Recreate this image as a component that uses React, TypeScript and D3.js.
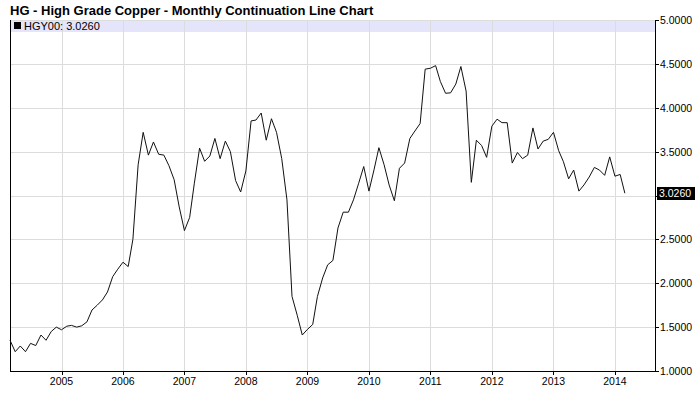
import * as d3 from "d3";
import React, { useEffect, useRef } from "react";

// monthly closes, first value is March 2004
const startMonth = "2004-03-01";
const y2004 = [1.35, 1.22, 1.285, 1.22, 1.315, 1.29, 1.41, 1.35, 1.45, 1.5];
const y2005 = [1.47, 1.51, 1.52, 1.5, 1.515, 1.56, 1.695, 1.75, 1.81, 1.9, 2.075, 2.16];
const y2006 = [2.24, 2.19, 2.5, 3.35, 3.72, 3.46, 3.61, 3.47, 3.46, 3.34, 3.18, 2.87];
const y2007 = [2.6, 2.75, 3.14, 3.54, 3.39, 3.45, 3.65, 3.42, 3.62, 3.5, 3.17, 3.04];
const y2008 = [3.28, 3.85, 3.86, 3.94, 3.63, 3.875, 3.72, 3.42, 2.95, 1.85, 1.635, 1.41];
const y2009 = [1.475, 1.53, 1.85, 2.06, 2.21, 2.26, 2.63, 2.81, 2.81, 2.95, 3.14, 3.33];
const y2010 = [3.05, 3.3, 3.545, 3.35, 3.12, 2.94, 3.31, 3.37, 3.65, 3.735, 3.82, 4.44];
const y2011 = [4.45, 4.48, 4.3, 4.165, 4.17, 4.27, 4.47, 4.19, 3.15, 3.63, 3.57, 3.435];
const y2012 = [3.79, 3.87, 3.83, 3.83, 3.37, 3.49, 3.42, 3.46, 3.77, 3.53, 3.62, 3.64];
const y2013 = [3.72, 3.51, 3.385, 3.19, 3.29, 3.05, 3.12, 3.21, 3.32, 3.29, 3.23, 3.44];
const y2014 = [3.22, 3.24, 3.026];

const yearTicks = [2005, 2006, 2007, 2008, 2009, 2010, 2011, 2012, 2013, 2014];
const priceTicks = [1, 1.5, 2, 2.5, 3, 3.5, 4, 4.5, 5];
const lastLabel = "3.0260";
const legendLabel = "HGY00: 3.0260";

export default function App() {
  const ref = useRef<SVGSVGElement>(null);

  useEffect(() => {
    const svg = d3.select(ref.current);
    svg.selectAll("*").remove();

    const values = [
      ...y2004, ...y2005, ...y2006, ...y2007, ...y2008, ...y2009,
      ...y2010, ...y2011, ...y2012, ...y2013, ...y2014,
    ];
    const start = new Date(startMonth + "T00:00:00Z");
    const data = values.map((v, i) => ({ date: d3.utcMonth.offset(start, i), value: v }));
    const last = data[data.length - 1];

    const left = 10, right = 655, top = 20, bottom = 371;
    const x = d3.scaleUtc()
      .domain([start, new Date("2014-08-27T00:00:00Z")])
      .range([left, right]);
    const y = d3.scaleLinear().domain([1, 5]).range([bottom, top]);
    const yearX = (d: number) => Math.round(x(new Date(Date.UTC(d, 0, 1)))) + 0.5;

    svg.append("text")
      .attr("x", 10).attr("y", 15)
      .attr("font-family", "Liberation Sans, Arial, sans-serif")
      .attr("font-size", 13).attr("font-weight", "bold")
      .attr("fill", "#000")
      .text("HG - High Grade Copper - Monthly Continuation Line Chart");

    // legend band
    svg.append("rect")
      .attr("x", left).attr("y", top)
      .attr("width", right - left).attr("height", 12)
      .attr("fill", "#e4e4fb");

    const grid = svg.append("g").attr("stroke", "#dcdcdc").attr("shape-rendering", "crispEdges");
    grid.selectAll("line.h").data(priceTicks.slice(1)).join("line")
      .attr("x1", left).attr("x2", right)
      .attr("y1", (d) => Math.round(y(d)) + 0.5).attr("y2", (d) => Math.round(y(d)) + 0.5);
    grid.selectAll("line.v").data(yearTicks).join("line")
      .attr("x1", yearX).attr("x2", yearX)
      .attr("y1", top).attr("y2", bottom);

    svg.append("rect")
      .attr("x", 14).attr("y", 22).attr("width", 7).attr("height", 7)
      .attr("fill", "#000");
    svg.append("text")
      .attr("x", 24).attr("y", 30)
      .attr("font-family", "Liberation Sans, Arial, sans-serif")
      .attr("font-size", 11).attr("fill", "#000")
      .text(legendLabel);

    // axes frame
    const axis = svg.append("g").attr("stroke", "#000").attr("shape-rendering", "crispEdges");
    axis.append("line").attr("x1", left + 0.5).attr("x2", left + 0.5).attr("y1", top).attr("y2", bottom);
    axis.append("line").attr("x1", right + 0.5).attr("x2", right + 0.5).attr("y1", top).attr("y2", bottom + 1);
    axis.append("line").attr("x1", left).attr("x2", right + 1).attr("y1", bottom + 0.5).attr("y2", bottom + 0.5);

    axis.selectAll("line.rt").data(priceTicks).join("line")
      .attr("x1", right).attr("x2", right + 4)
      .attr("y1", (d) => Math.round(y(d)) + 0.5).attr("y2", (d) => Math.round(y(d)) + 0.5);
    axis.selectAll("line.bt").data(yearTicks).join("line")
      .attr("x1", yearX).attr("x2", yearX)
      .attr("y1", bottom).attr("y2", bottom + 4);

    // tick labels hidden behind the last-value marker are left out
    const shownTicks = priceTicks.filter((d) => Math.abs(y(d) - y(last.value)) > 12);
    const labels = svg.append("g")
      .attr("font-family", "Liberation Sans, Arial, sans-serif")
      .attr("font-size", 10.5).attr("fill", "#000");
    labels.selectAll("text.p").data(shownTicks).join("text")
      .attr("x", right + 5).attr("y", (d) => y(d) + 4)
      .text((d) => d.toFixed(4));
    labels.selectAll("text.yr").data(yearTicks).join("text")
      .attr("x", (d) => x(new Date(Date.UTC(d, 0, 1))))
      .attr("y", bottom + 14)
      .attr("text-anchor", "middle")
      .text((d) => d);

    const line = d3.line<{ date: Date; value: number }>()
      .x((d) => x(d.date))
      .y((d) => y(d.value));

    svg.append("path")
      .datum(data)
      .attr("fill", "none")
      .attr("stroke", "#111")
      .attr("stroke-width", 1)
      .attr("d", line);

    // last value marker
    svg.append("rect")
      .attr("x", right + 2).attr("y", Math.round(y(last.value)) - 6)
      .attr("width", 38).attr("height", 13)
      .attr("fill", "#000");
    svg.append("text")
      .attr("x", right + 4).attr("y", y(last.value) + 4)
      .attr("font-family", "Liberation Sans, Arial, sans-serif")
      .attr("font-size", 10.5).attr("fill", "#fff")
      .text(lastLabel);
  }, []);

  return (
    <svg
      ref={ref}
      width={700}
      height={411}
      style={{ position: "absolute", left: 0, top: 0, background: "#fff" }}
    />
  );
}
